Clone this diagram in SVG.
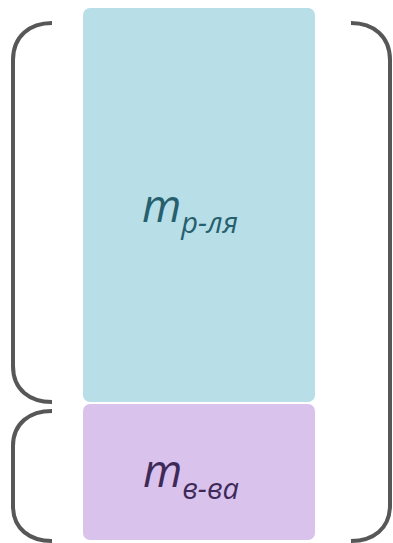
<svg xmlns="http://www.w3.org/2000/svg" width="393" height="543" viewBox="0 0 393 543">
  <style>
    .brace { fill: none; stroke: #575757; stroke-width: 4; stroke-linecap: butt; }
    .lbl { font-family: "Open Sans", "DejaVu Sans", sans-serif; font-style: italic; }
    .main { font-size: 45px; }
    .sub { font-size: 29px; }
  </style>
  <rect width="393" height="543" fill="#ffffff"/>

  <g id="solution">
    <rect x="83" y="8" width="232" height="394" rx="7" fill="#b8dee7"/>
    <text class="lbl" x="142" y="222" fill="#265f6e"><tspan class="main">m</tspan><tspan class="sub" dy="11">р-ля</tspan></text>
  </g>

  <g id="substance">
    <rect x="83" y="404" width="232" height="136" rx="7" fill="#d9c2ec"/>
    <text class="lbl" x="143" y="487" fill="#3e2a58"><tspan class="main">m</tspan><tspan class="sub" dy="12">в-ва</tspan></text>
  </g>

  <g id="braces">
    <path class="brace" d="M52,23 C30,23 13,36 13,60 L13,366 C13,390 30,402 52,402"/>
    <path class="brace" d="M52,411 C30,411 13,423 13,446 L13,506 C13,529 30,541 52,541"/>
    <path class="brace" d="M351,23 C373,23 390,36 390,60 L390,505 C390,529 373,541 351,541"/>
  </g>
</svg>
